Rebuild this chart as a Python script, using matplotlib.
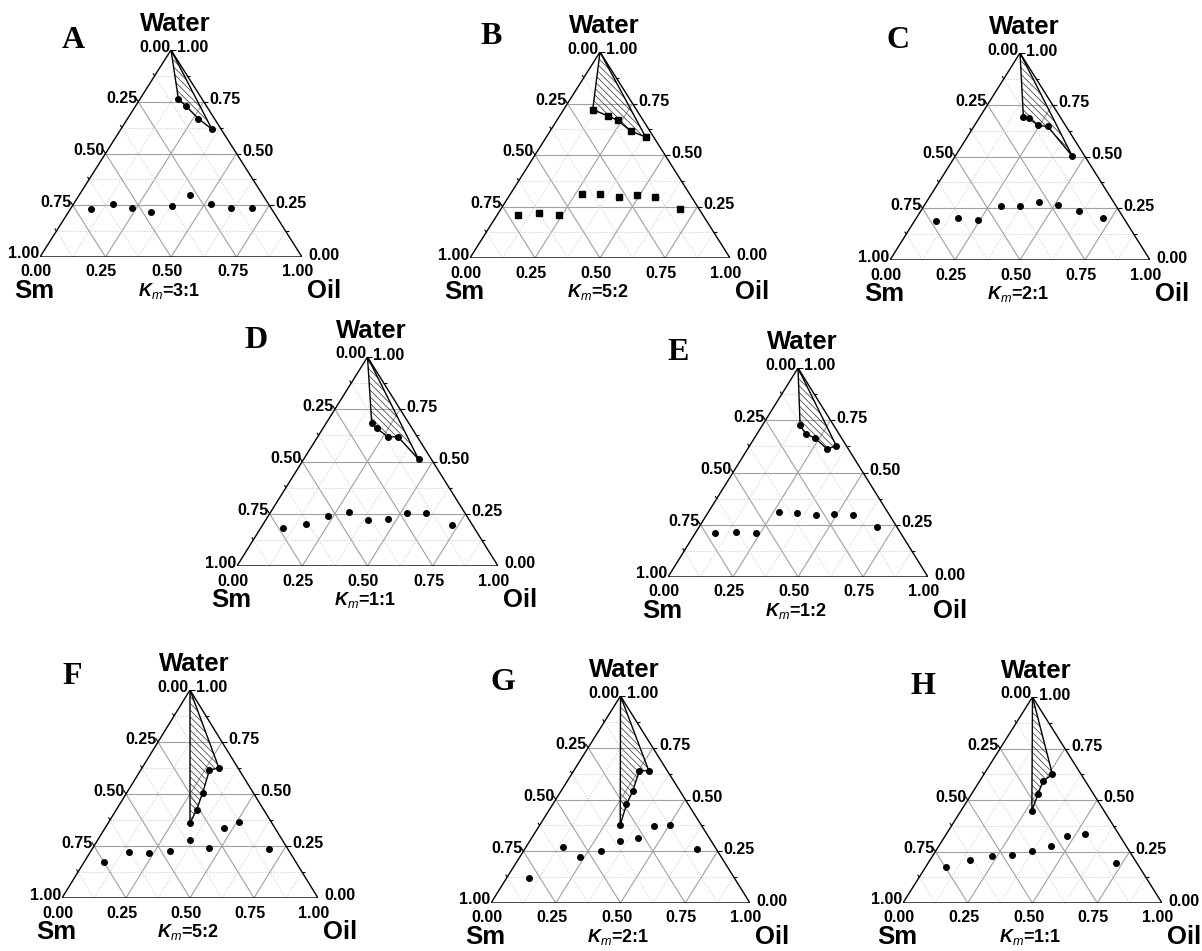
import matplotlib
matplotlib.use('Agg')
import matplotlib.pyplot as plt
import numpy as np
from matplotlib.patches import Polygon
from matplotlib.transforms import offset_copy

plt.rcParams['font.family'] = ['Liberation Sans', 'DejaVu Sans']
plt.rcParams['mathtext.fontset'] = 'custom'
plt.rcParams['mathtext.rm'] = 'Liberation Sans'
plt.rcParams['mathtext.it'] = 'Liberation Sans:italic'
plt.rcParams['mathtext.bfit'] = 'Liberation Sans:italic:bold'
plt.rcParams['hatch.linewidth'] = 0.5

# compositions as (oil, water) mass fractions, Sm = 1 - oil - water
# region_* : boundary of the hatched microemulsion region (apex is added when drawing)
# points_* : titration points below the region
region_a = [(0.148, 0.761), (0.193, 0.729), (0.269, 0.669), (0.347, 0.618)]
points_a = [(0.080, 0.231), (0.153, 0.255), (0.232, 0.239), (0.317, 0.215), (0.379, 0.248),
            (0.423, 0.300), (0.524, 0.256), (0.611, 0.239), (0.688, 0.239)]

region_b = [(0.112, 0.720), (0.188, 0.689), (0.234, 0.668), (0.309, 0.617), (0.382, 0.587)]
points_b = [(0.078, 0.210), (0.157, 0.217), (0.237, 0.210), (0.276, 0.312), (0.347, 0.309),
            (0.423, 0.298), (0.489, 0.304), (0.566, 0.294), (0.687, 0.239)]

region_c = [(0.167, 0.692), (0.191, 0.684), (0.246, 0.650), (0.284, 0.645), (0.450, 0.502)]
points_c = [(0.084, 0.187), (0.161, 0.203), (0.243, 0.194), (0.296, 0.261), (0.369, 0.261),
            (0.433, 0.281), (0.514, 0.266), (0.609, 0.239), (0.717, 0.205)]

region_d = [(0.173, 0.686), (0.207, 0.658), (0.269, 0.618), (0.308, 0.618), (0.441, 0.510)]
points_d = [(0.087, 0.182), (0.163, 0.203), (0.230, 0.240), (0.300, 0.259), (0.394, 0.218),
            (0.465, 0.227), (0.524, 0.254), (0.598, 0.254), (0.723, 0.198)]

region_e = [(0.145, 0.726), (0.186, 0.686), (0.232, 0.665), (0.307, 0.612), (0.333, 0.628)]
points_e = [(0.074, 0.211), (0.152, 0.217), (0.234, 0.209), (0.272, 0.311), (0.343, 0.308),
            (0.419, 0.298), (0.487, 0.303), (0.563, 0.295), (0.682, 0.241)]

region_f = [(0.320, 0.360), (0.314, 0.424), (0.297, 0.504), (0.269, 0.613), (0.299, 0.627)]
points_f = [(0.078, 0.171), (0.151, 0.222), (0.232, 0.216), (0.309, 0.224), (0.360, 0.280),
            (0.455, 0.240), (0.466, 0.336), (0.509, 0.363), (0.689, 0.237)]

region_g = [(0.310, 0.378), (0.285, 0.476), (0.277, 0.539), (0.254, 0.637), (0.289, 0.640)]
points_g = [(0.085, 0.121), (0.143, 0.272), (0.232, 0.223), (0.300, 0.249), (0.349, 0.299),
            (0.412, 0.312), (0.442, 0.371), (0.502, 0.375), (0.665, 0.262)]

region_h = [(0.274, 0.447), (0.257, 0.527), (0.245, 0.592), (0.265, 0.624)]
points_h = [(0.078, 0.173), (0.153, 0.210), (0.229, 0.227), (0.303, 0.232), (0.373, 0.252),
            (0.432, 0.279), (0.471, 0.327), (0.536, 0.334), (0.726, 0.194)]

letters = ['A', 'B', 'C', 'D', 'E', 'F', 'G', 'H']
km_ratios = ['3:1', '5:2', '2:1', '1:1', '1:2', '5:2', '2:1', '1:1']
regions = [region_a, region_b, region_c, region_d, region_e, region_f, region_g, region_h]
points = [points_a, points_b, points_c, points_d, points_e, points_f, points_g, points_h]
markers = ['o', 's', 'o', 'o', 'o', 'o', 'o', 'o']
tick_values = [0.0, 0.25, 0.5, 0.75, 1.0]

# triangle placement in pixels: left-bottom corner x, y (from top), width, height
boxes = [(40, 257, 262, 207), (470, 258, 260, 206), (890, 260, 260, 207),
         (237, 566, 261, 209), (668, 577, 260, 209),
         (62, 898, 256, 208), (491, 903, 259, 207), (903, 903, 259, 206)]
letter_offsets = [(-98, 10), (-109, 15), (-122, 13), (-111, 16), (-120, 15),
                  (-118, 13), (-118, 13), (-110, 10)]

W, H = 1202, 951
fig = plt.figure(figsize=(W / 100, H / 100), dpi=100)


def to_uv(comp):
    comp = np.asarray(comp, dtype=float)
    oil, water = comp[:, 0], comp[:, 1]
    return oil + water / 2, water


def seg(ax, p0, p1, **kw):
    u, v = to_uv([p0, p1])
    ax.plot(u, v, **kw)


def tick(ax, p, direction, length, wpx, hpx):
    # direction given in (u, v) units, drawn with a fixed pixel length
    u, v = to_uv([p])
    dx, dy = direction[0] * wpx, direction[1] * hpx
    n = np.hypot(dx, dy)
    dx, dy = dx / n * length, dy / n * length
    ax.plot([u[0], u[0] + dx / wpx], [v[0], v[0] + dy / hpx], color='black', lw=0.8,
            solid_capstyle='butt')


def draw_panel(ax, region, pts, marker, letter, km, wpx, hpx, loff):
    ax.set_xlim(0, 1)
    ax.set_ylim(0, 1)
    ax.axis('off')

    # grid lines: water = c, oil = c, Sm = c
    for c in np.arange(1, 8) / 8:
        if c in (0.25, 0.5, 0.75):
            st = dict(color='#a0a0a0', lw=0.8, zorder=1)
        else:
            st = dict(color='#d4d4d4', lw=0.7, ls=(0, (1.5, 1.5)), zorder=1)
        seg(ax, (0, c), (1 - c, c), **st)
        seg(ax, (c, 0), (c, 1 - c), **st)
        seg(ax, (1 - c, 0), (0, 1 - c), **st)

    # outline
    u, v = to_uv([(0, 0), (1, 0), (0, 1), (0, 0)])
    ax.plot(u, v, color='black', lw=1.0, zorder=3)

    # ticks
    for c in np.arange(0, 9) / 8:
        ln = 4.5 if c in tick_values else 3
        tick(ax, (c, 0), (-0.5, -1), ln, wpx, hpx)
        tick(ax, (0, 1 - c), (-0.5, 1), ln, wpx, hpx)
        tick(ax, (1 - c, c), (1, 0), ln, wpx, hpx)

    fs = 11.5
    for t in tick_values:
        u, v = to_uv([(0, 1 - t)])
        ax.text(u[0], v[0], f'{t:.2f}', ha='right', va='center', fontsize=fs, fontweight='bold',
                transform=offset_copy(ax.transData, fig=fig, x=-1, y=3, units='dots'))
        u, v = to_uv([(1 - t, t)])
        ax.text(u[0], v[0], f'{t:.2f}', ha='left', va='center', fontsize=fs, fontweight='bold',
                transform=offset_copy(ax.transData, fig=fig, x=6, y=2, units='dots'))
        ax.text(t, 0, f'{t:.2f}', ha='center', va='center', fontsize=fs, fontweight='bold',
                transform=offset_copy(ax.transData, fig=fig, x=-4, y=-15, units='dots'))

    # hatched microemulsion region
    outline = [(0, 1)] + list(region) + [(0, 1)]
    u, v = to_uv(outline)
    ax.add_patch(Polygon(np.column_stack([u, v]), closed=True, facecolor='none',
                         edgecolor='#333333', hatch='\\' * 5, lw=0, zorder=4))
    ax.plot(u, v, color='black', lw=1.0, zorder=5)
    ms = 4
    u, v = to_uv(region)
    ax.plot(u, v, ls='none', marker=marker, ms=ms, color='black', zorder=6)
    u, v = to_uv(pts)
    ax.plot(u, v, ls='none', marker=marker, ms=ms, color='black', zorder=6)

    # labels
    ax.text(0.5, 1, 'Water', ha='center', va='center', fontsize=18.5, fontweight='bold',
            transform=offset_copy(ax.transData, fig=fig, x=4, y=26, units='dots'))
    ax.text(0, 0, 'Sm', ha='center', va='center', fontsize=18.5, fontweight='bold',
            transform=offset_copy(ax.transData, fig=fig, x=-6, y=-34, units='dots'))
    ax.text(1, 0, 'Oil', ha='center', va='center', fontsize=18.5, fontweight='bold',
            transform=offset_copy(ax.transData, fig=fig, x=22, y=-34, units='dots'))
    ax.text(0.5, 0, r'$\mathbfit{K}_{m}$=' + km, ha='center', va='center', fontsize=13,
            fontweight='bold',
            transform=offset_copy(ax.transData, fig=fig, x=-2, y=-34, units='dots'))
    ax.text(0.5, 1, letter, ha='center', va='center', fontsize=23, fontweight='bold',
            family='Liberation Serif',
            transform=offset_copy(ax.transData, fig=fig, x=loff[0], y=loff[1], units='dots'))


for i in range(8):
    x0, yb, wpx, hpx = boxes[i]
    ax = fig.add_axes([x0 / W, 1 - yb / H, wpx / W, hpx / H])
    draw_panel(ax, regions[i], points[i], markers[i], letters[i], km_ratios[i],
               wpx, hpx, letter_offsets[i])

fig.savefig('out.png', dpi=100)
